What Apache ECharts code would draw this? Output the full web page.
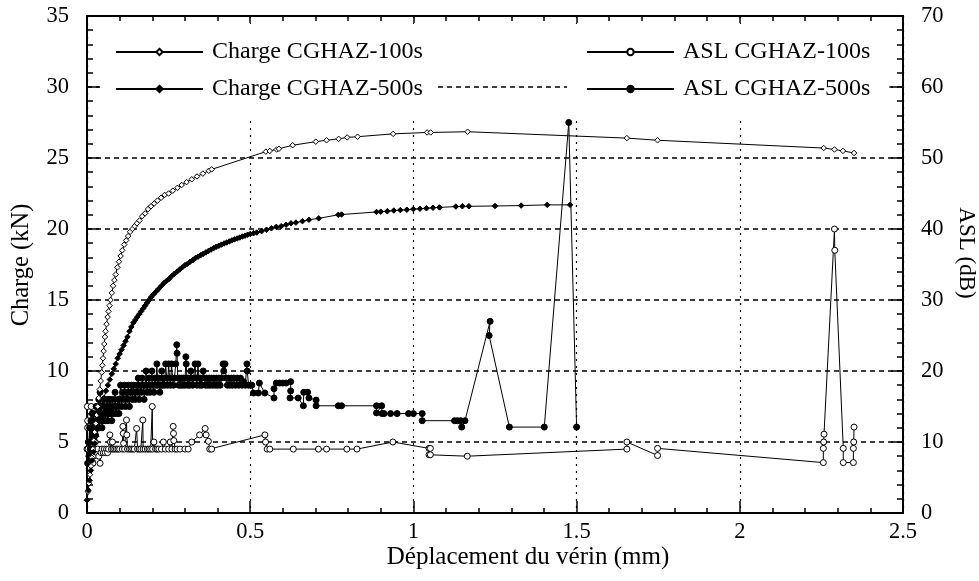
<!DOCTYPE html>
<html>
<head>
<meta charset="utf-8">
<script src="https://cdn.jsdelivr.net/npm/echarts@6/dist/echarts.min.js"></script>
<style>html,body{margin:0;padding:0;background:#fff}#c{width:979px;height:581px}</style>
</head>
<body>
<div id="c"></div>
<script>
// Charge (kN) vs displacement (mm)
const charge100 = [[0,0.9],[0.003,1.5],[0.006,2.1],[0.009,2.7],[0.012,3.3],[0.015,3.9],[0.018,4.5],[0.021,5.1],[0.024,5.7],[0.027,6.3],[0.030,6.9],[0.033,7.5],[0.036,8.1],[0.039,8.7],[0.042,9.3],[0.045,9.9],[0.047,10.4],[0.049,10.9],[0.051,11.4],[0.053,11.9],[0.055,12.4],[0.057,12.8],[0.060,13.3],[0.063,13.8],[0.066,14.2],[0.069,14.6],[0.072,15.0],[0.076,15.5],[0.080,16.0],[0.084,16.4],[0.088,16.8],[0.093,17.3],[0.098,17.7],[0.103,18.1],[0.108,18.5],[0.114,18.9],[0.120,19.2],[0.126,19.5],[0.132,19.8],[0.139,20.0],[0.146,20.2],[0.153,20.4],[0.161,20.6],[0.169,20.9],[0.178,21.1],[0.187,21.4],[0.196,21.6],[0.206,21.8],[0.216,22.0],[0.227,22.2],[0.238,22.4],[0.250,22.5],[0.263,22.7],[0.277,22.9],[0.290,23.1],[0.305,23.3],[0.321,23.5],[0.337,23.7],[0.355,23.9],[0.373,24.1],[0.382,24.2],[0.548,25.45],[0.560,25.5],[0.581,25.6],[0.588,25.65],[0.630,25.9],[0.701,26.15],[0.734,26.25],[0.771,26.35],[0.797,26.45],[0.829,26.5],[0.938,26.7],[1.042,26.8],[1.053,26.8],[1.166,26.85],[1.654,26.4],[1.748,26.25],[2.257,25.7],[2.29,25.6],[2.316,25.5],[2.35,25.35]];

const charge500 = [[0,0.9],[0.004,1.6],[0.008,2.3],[0.012,3.0],[0.016,3.7],[0.020,4.3],[0.024,4.9],[0.028,5.4],[0.032,5.9],[0.036,6.5],[0.040,7.0],[0.046,7.6],[0.052,8.1],[0.058,8.6],[0.064,9.0],[0.070,9.4],[0.076,9.8],[0.082,10.15],[0.088,10.5],[0.094,10.9],[0.100,11.2],[0.106,11.5],[0.112,11.8],[0.118,12.1],[0.124,12.4],[0.130,12.8],[0.136,13.1],[0.142,13.4],[0.148,13.6],[0.154,13.8],[0.160,14.0],[0.166,14.2],[0.172,14.4],[0.178,14.6],[0.184,14.8],[0.190,15.0],[0.196,15.2],[0.204,15.4],[0.212,15.6],[0.220,15.8],[0.228,16.0],[0.236,16.2],[0.244,16.35],[0.252,16.5],[0.260,16.7],[0.268,16.85],[0.276,17.0],[0.284,17.15],[0.292,17.3],[0.300,17.45],[0.308,17.55],[0.316,17.7],[0.324,17.8],[0.332,17.95],[0.340,18.05],[0.348,18.15],[0.356,18.25],[0.364,18.35],[0.372,18.45],[0.380,18.55],[0.388,18.65],[0.396,18.75],[0.404,18.82],[0.412,18.9],[0.420,18.98],[0.428,19.05],[0.436,19.12],[0.444,19.2],[0.452,19.27],[0.460,19.33],[0.468,19.4],[0.476,19.47],[0.484,19.53],[0.492,19.6],[0.500,19.65],[0.510,19.7],[0.520,19.75],[0.535,19.85],[0.550,19.95],[0.565,20.05],[0.580,20.15],[0.595,20.2],[0.610,20.3],[0.625,20.4],[0.640,20.45],[0.660,20.55],[0.680,20.65],[0.710,20.75],[0.770,21.0],[0.780,21.02],[0.887,21.2],[0.900,21.22],[0.920,21.25],[0.940,21.3],[0.960,21.33],[0.980,21.36],[1.000,21.4],[1.020,21.43],[1.040,21.46],[1.060,21.5],[1.080,21.52],[1.130,21.58],[1.150,21.6],[1.170,21.6],[1.250,21.62],[1.330,21.65],[1.410,21.7],[1.480,21.7]];

// ASL (dB) vs displacement (mm)
const asl100 = [[0,9],[0.001,15],[0.002,13],[0.002,12],[0.003,9],[0.004,7],[0.007,8],[0.010,9],[0.013,15],[0.015,12],[0.016,9],[0.018,7],[0.020,8],[0.022,9],[0.025,10],[0.028,9],[0.030,8.5],[0.033,9],[0.036,8],[0.040,7],[0.043,8.5],[0.046,9],[0.050,8.5],[0.053,9],[0.056,8.5],[0.060,9],[0.063,8.5],[0.066,9],[0.070,11],[0.072,10],[0.075,9],[0.078,10],[0.080,9],[0.085,9],[0.090,9],[0.095,9],[0.100,9],[0.108,9],[0.110,12.2],[0.111,11.2],[0.112,9.8],[0.115,9],[0.121,13.1],[0.122,11],[0.124,9],[0.130,9],[0.135,9],[0.140,9],[0.145,9],[0.152,11.9],[0.155,9],[0.160,9],[0.165,9],[0.171,13.1],[0.172,9],[0.178,9],[0.185,9],[0.190,9],[0.195,9],[0.200,15],[0.201,9],[0.205,10],[0.210,9],[0.215,9],[0.220,9],[0.228,9],[0.234,10],[0.240,9],[0.250,9],[0.255,10],[0.260,9],[0.264,12.2],[0.265,11.2],[0.266,10.2],[0.270,9],[0.276,9],[0.285,9],[0.300,9],[0.310,9],[0.321,10],[0.345,11],[0.362,11.9],[0.365,11],[0.372,10.1],[0.376,9],[0.382,9],[0.545,11],[0.547,10],[0.552,9],[0.560,9],[0.632,9],[0.709,9],[0.734,9],[0.796,9],[0.827,9],[0.937,10],[1.048,9.1],[1.052,9.1],[1.048,8.2],[1.052,8.2],[1.165,8.0],[1.654,9.0],[1.654,10.0],[1.748,8.1],[1.748,9.1],[2.256,7.1],[2.256,9.1],[2.257,10],[2.258,11.1],[2.290,40],[2.291,37],[2.317,9.1],[2.317,7.1],[2.348,7.1],[2.348,9.1],[2.349,10],[2.350,12.1]];

const asl500 = [[0.002,7],[0.004,10],[0.006,8],[0.008,12],[0.010,9],[0.012,13],[0.014,10],[0.016,14],[0.018,11],[0.020,14],[0.022,12],[0.024,13],[0.026,11],[0.028,15],[0.030,12],[0.032,14],[0.034,13],[0.036,16],[0.038,12],[0.040,17],[0.042,13],[0.044,15],[0.046,12],[0.048,14],[0.050,13],[0.052,16],[0.054,14],[0.056,13],[0.058,15],[0.060,14],[0.062,16],[0.064,13],[0.066,15],[0.068,14],[0.070,16],[0.072,14],[0.074,15],[0.076,13],[0.078,16],[0.080,14],[0.083,15],[0.086,17],[0.089,14],[0.092,15],[0.095,16],[0.098,14],[0.100,16],[0.103,18],[0.106,15],[0.109,17],[0.112,16],[0.115,18],[0.118,15],[0.121,17],[0.124,16],[0.127,18],[0.130,15],[0.133,17],[0.136,18],[0.139,16],[0.142,18],[0.145,17],[0.148,16],[0.151,18],[0.154,17],[0.157,19],[0.160,16],[0.163,18],[0.166,17],[0.169,19],[0.172,18],[0.175,16],[0.178,18],[0.181,20],[0.184,17],[0.187,18],[0.190,19],[0.193,17],[0.196,18],[0.199,20],[0.202,18],[0.205,17],[0.208,19],[0.211,18],[0.214,21],[0.217,18],[0.220,19],[0.223,17],[0.226,18],[0.229,20],[0.232,18],[0.235,19],[0.238,18],[0.241,21],[0.244,19],[0.247,18],[0.250,21],[0.253,19],[0.256,18],[0.259,21],[0.262,19],[0.265,18],[0.268,19],[0.272,21],[0.275,23.7],[0.276,22.5],[0.278,19],[0.281,18],[0.284,19],[0.287,18],[0.290,19],[0.293,18],[0.296,19],[0.300,18],[0.303,22],[0.304,21],[0.306,19],[0.309,18],[0.312,19],[0.315,18],[0.318,20],[0.321,19],[0.324,18],[0.327,19],[0.331,21],[0.334,19],[0.337,18],[0.340,21],[0.343,19],[0.346,18],[0.349,19],[0.352,18],[0.356,20],[0.360,19],[0.363,18],[0.367,19],[0.370,18],[0.374,19],[0.377,18],[0.381,19],[0.385,18],[0.389,19],[0.393,18],[0.397,19],[0.400,18],[0.404,19],[0.408,18],[0.412,19],[0.417,21],[0.419,20],[0.423,21],[0.426,19],[0.430,18],[0.434,19],[0.438,18],[0.442,19],[0.446,18],[0.450,19],[0.455,18],[0.460,19],[0.465,18],[0.470,19],[0.475,18],[0.480,18.5],[0.485,18],[0.490,21],[0.491,20],[0.495,18],[0.505,18],[0.510,16.9],[0.525,16.9],[0.528,18.3],[0.545,16.9],[0.573,16.2],[0.573,17.5],[0.580,18.3],[0.590,18.3],[0.600,18.3],[0.610,18.3],[0.624,18.5],[0.624,17.2],[0.622,16.2],[0.647,16.2],[0.663,15.1],[0.664,17.0],[0.676,17.0],[0.680,16.2],[0.702,15.9],[0.702,15.1],[0.770,15.1],[0.780,15.1],[0.887,15.1],[0.887,14.1],[0.903,15.1],[0.904,14.0],[0.910,14.0],[0.930,14.0],[0.950,14.0],[0.985,14.0],[1.000,14.0],[1.027,14.0],[1.027,13.0],[1.126,13.0],[1.135,13.0],[1.145,13.0],[1.148,12.1],[1.158,13.0],[1.235,27],[1.232,25],[1.294,12.1],[1.401,12.1],[1.476,55],[1.500,12.1]];

const seriesNames = ['Charge CGHAZ-100s','Charge CGHAZ-500s','ASL CGHAZ-100s','ASL CGHAZ-500s'];

const FONT = 'Liberation Serif';
const chart = echarts.init(document.getElementById('c'), null, {renderer: 'canvas'});

function lineSeries(name, data, yIdx, symbol, filled, size) {
  return {
    name: name, type: 'line', data: data, xAxisIndex: 0, yAxisIndex: yIdx,
    symbol: symbol, symbolSize: size, showAllSymbol: true, sampling: null,
    lineStyle: {color: '#000', width: 1},
    itemStyle: {color: filled ? '#000' : '#fff', borderColor: '#000', borderWidth: 1},
    emphasis: {disabled: true}, animation: false
  };
}

const legendText = {fontFamily: FONT, fontSize: 24, color: '#000', padding: [0,0,0,4], lineHeight: 24};

chart.setOption({
  animation: false,
  backgroundColor: '#fff',
  grid: {left: 87, right: 76, top: 16, bottom: 68, containLabel: false},
  legend: [
    {data: [seriesNames[0], seriesNames[1]], orient: 'vertical', left: 100, top: 24,
     padding: [16, 13, 17, 15], itemGap: 13, itemWidth: 87, itemHeight: 8,
     backgroundColor: '#fff', selectedMode: false, textStyle: legendText},
    {data: [seriesNames[2], seriesNames[3]], orient: 'vertical', left: 567, top: 24,
     padding: [16, 19, 17, 19], itemGap: 13, itemWidth: 87, itemHeight: 8,
     backgroundColor: '#fff', selectedMode: false, textStyle: legendText}
  ],
  xAxis: [
    {type: 'value', position: 'bottom', min: 0, max: 2.5, interval: 0.5,
     axisLine: {show: true, onZero: false, lineStyle: {color: '#000', width: 2}},
     axisTick: {show: true, inside: true, length: 12, lineStyle: {color: '#000', width: 1.5}},
     minorTick: {show: true, splitNumber: 5, length: 5, lineStyle: {color: '#000', width: 1.5}},
     axisLabel: {fontFamily: FONT, fontSize: 22.5, color: '#000', margin: 8},
     splitLine: {show: true, lineStyle: {color: '#000', width: 1.2, type: [2, 5]}}},
    {type: 'value', position: 'top', min: 0, max: 2.5, interval: 0.5,
     axisLine: {show: true, onZero: false, lineStyle: {color: '#000', width: 2}},
     axisTick: {show: true, inside: true, length: 7, lineStyle: {color: '#000', width: 1.5}},
     minorTick: {show: true, splitNumber: 5, length: 5, lineStyle: {color: '#000', width: 1.5}},
     axisLabel: {show: false}, splitLine: {show: false}}
  ],
  yAxis: [
    {type: 'value', position: 'left', min: 0, max: 35, interval: 5,
     axisLine: {show: true, onZero: false, lineStyle: {color: '#000', width: 2}},
     axisTick: {show: true, inside: true, length: 12, lineStyle: {color: '#000', width: 1.5}},
     minorTick: {show: true, splitNumber: 5, length: 6, lineStyle: {color: '#000', width: 1.5}},
     axisLabel: {fontFamily: FONT, fontSize: 22.5, color: '#000', margin: 18},
     splitLine: {show: true, lineStyle: {color: '#000', width: 1.5, type: [5, 4]}}},
    {type: 'value', position: 'right', min: 0, max: 70, interval: 10,
     axisLine: {show: true, onZero: false, lineStyle: {color: '#000', width: 2}},
     axisTick: {show: true, inside: true, length: 12, lineStyle: {color: '#000', width: 1.5}},
     minorTick: {show: true, splitNumber: 5, length: 6, lineStyle: {color: '#000', width: 1.5}},
     axisLabel: {fontFamily: FONT, fontSize: 22.5, color: '#000', margin: 18},
     splitLine: {show: false}}
  ],
  graphic: [
    {type: 'text', x: 22, y: 265, rotation: Math.PI / 2,
     style: {text: 'Charge (kN)', fontFamily: FONT, fontSize: 24.5, fill: '#000',
             align: 'center', verticalAlign: 'middle', textAlign: 'center', textVerticalAlign: 'middle'}},
    {type: 'text', x: 966, y: 253, rotation: -Math.PI / 2,
     style: {text: 'ASL (dB)', fontFamily: FONT, fontSize: 23, fill: '#000',
             align: 'center', verticalAlign: 'middle', textAlign: 'center', textVerticalAlign: 'middle'}},
    {type: 'text', x: 528, y: 557,
     style: {text: 'Déplacement du vérin (mm)', fontFamily: FONT, fontSize: 25, fill: '#000',
             align: 'center', verticalAlign: 'middle', textAlign: 'center', textVerticalAlign: 'middle'}}
  ],
  series: [
    lineSeries(seriesNames[2], asl100, 1, 'circle', false, 6),
    lineSeries(seriesNames[3], asl500, 1, 'circle', true, 6),
    lineSeries(seriesNames[0], charge100, 0, 'diamond', false, 5.5),
    lineSeries(seriesNames[1], charge500, 0, 'diamond', true, 5.5)
  ]
});
</script>
</body>
</html>
